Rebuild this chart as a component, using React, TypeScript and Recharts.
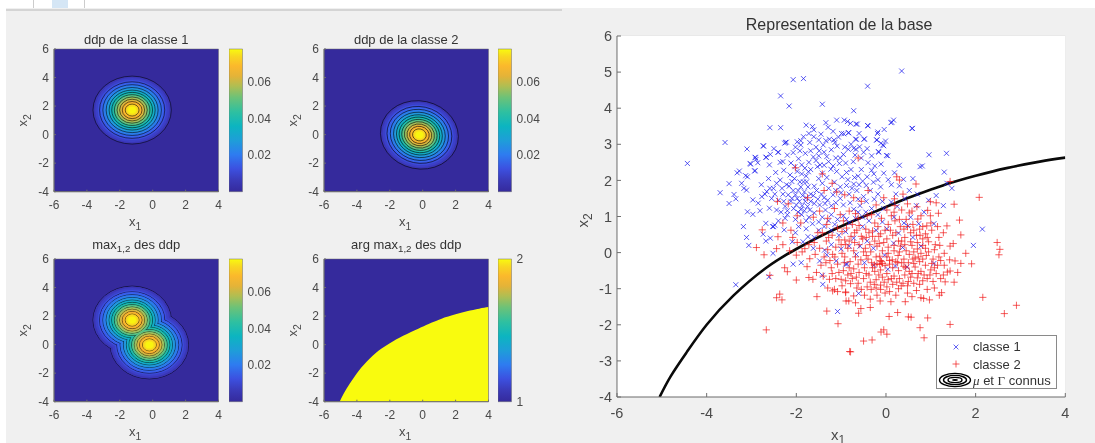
import React from "react";
import {
  Area,
  ComposedChart,
  CartesianGrid,
  Legend,
  Line,
  ReferenceArea,
  Scatter,
  ScatterChart,
  XAxis,
  YAxis,
} from "recharts";

const FONT = "'Liberation Sans', Arial, sans-serif";
const TEXT = "#4a4a4a";
const AXIS = "#6e6e6e";
const BASE = "#352a9c";
const YELLOW = "#f9fb0e";

const xTicks = [-6, -4, -2, 0, 2, 4];
const yTicksSmall = [-4, -2, 0, 2, 4, 6];
const yTicksMain = [-4, -3, -2, -1, 0, 1, 2, 3, 4, 5, 6];
const densityTicks = [0.02, 0.04, 0.06];
const argTicks = [1, 2];

// density bands, outer to inner
const bandRadii = [2.38, 2.25, 2.1, 1.98, 1.88, 1.78, 1.68, 1.58, 1.49, 1.4, 1.32, 1.24, 1.16, 1.08, 1.0, 0.92, 0.84, 0.76, 0.68, 0.6, 0.51, 0.42, 0.33, 0.24];
const bandColors = ["#3a35b4", "#3b3fc6", "#3c4cdc", "#3b5aea", "#3568ee", "#2e76ee", "#2884e8", "#2392e0", "#1ea0d8", "#17aacc", "#10b2c0", "#16b8b0", "#2cbca0", "#48c08e", "#6cc278", "#90c266", "#b0be52", "#ccb944", "#e4b338", "#f6b030", "#fbbc2c", "#f8cc24", "#f7e01a", "#f9f40f"];
const contourRadii = [2.38, 1.98, 1.78, 1.58, 1.4, 1.24, 1.08, 0.92, 0.76, 0.6, 0.42];

const class1Centre = { x: -1.25, y: 1.72 };
const class2Centre = { x: -0.2, y: -0.02 };

const boundaryX = [-5.05, -4.8, -4.44, -4, -3.41, -2.67, -2, -1.19, -0.27, 0.36, 0.99, 1.43, 2, 2.69, 3.43, 4];
const boundaryY = [-4, -3.42, -2.75, -2, -1.2, -0.42, 0.1, 0.62, 1.12, 1.45, 1.74, 1.93, 2.13, 2.34, 2.52, 2.63];

const class1Points = [
  [-4.43,2.47],[-3.59,3.05],[-3.1,2.87],[-3.7,1.66],[-3.5,1.91],[-3.5,1.36],[-3.39,1.61],[-3.35,1.49],[-3.32,2.21],[-3.27,2.26],
  [-3.22,1.92],[-3.17,1.78],[-3.11,1.73],[-3.13,2.13],[-3.09,2.1],[-3.02,2.45],[-2.92,2.64],[-2.9,2.58],[-2.86,2.49],[-2.93,2.26],
  [-2.73,2.95],[-2.67,2.64],[-2.59,3.46],[-2.35,3.46],[-2.35,4.34],[-2.16,4.06],[-2.07,4.79],[-1.84,4.82],[-1.42,4.11],[-2.41,2.78],
  [-2.24,3.05],[0.35,5.03],[-0.41,4.61],[-0.72,3.93],[0.17,3.67],[0.11,3.6],[0.59,3.44],[-0.4,3.51],[-0.64,3.56],[-0.79,3.58],
  [-0.93,3.67],[-0.18,3.34],[-0.04,3.41],[-0.83,3.32],[-0.94,3.29],[-0.48,3.15],[-0.66,3.14],[-0.2,3.12],[-0.01,3.09],[-0.11,3.03],
  [-0.05,2.96],[-0.59,2.93],[-0.72,2.89],[-0.16,2.78],[0.04,2.68],[0.96,2.71],[1.35,2.75],[-0.4,2.49],[-0.11,2.45],[0.3,2.42],
  [0.76,2.38],[0.81,2.4],[1.3,2.23],[-0.27,2.18],[0.19,2.21],[0.39,2.03],[0.6,2.05],[1.36,1.92],[1.47,1.78],[1.28,1.3],
  [2.15,0.65],[1.95,0.2],[1.07,-0.3],[-0.27,-0.35],[-0.87,-0.32],[0.04,-0.46],[-0.61,-1.13],[0.17,0.26],[0.37,0.14],[-0.03,-0.07],
  [0.47,-0.4],[0.49,0.74],[0.02,0.66],[0.73,0.8],[1.07,0.8],[0.28,0.54],[0.21,-0.37],[-3.35,-0.89],[-2.61,-0.67],[-2.52,-0.02],
  [-3.06,0.2],[-3.11,0.42],[-3.18,0.72],[-2.74,0.51],[-2.68,0.32],[-2.58,0.4],[-2.27,0.63],[-2.07,-0.32],[-1.89,-0.28],[-1.48,-0.23],
  [-1.42,-0.63],[-1.41,-0.88],[-1.08,-1.63],[-1.37,0.07],[-1.11,-0.23],[-0.9,-0.32],[-1.32,-0.06],[-2.53,0.72],[-2.48,0.76],[-2.09,0.3],
  [-1.78,0.66],[-1.74,0.44],[-1.85,0.3],[-2.91,2.63],[-3.03,2.47],[-2.74,2.96],[-2.4,2.78],[-2.68,2.64],[-2.6,2.43],[-2.92,2.27],
  [-2.36,2.5],[-2.3,2.52],[-2.22,3.06],[-2.26,3.03],[-2.2,2.7],[-2.07,2.77],[-1.98,3.07],[-1.84,3.21],[-1.9,2.98],[-1.61,3.21],
  [-1.56,2.92],[-1.49,2.82],[-1.34,3.1],[-1.26,3.14],[-1.14,3.05],[-1.09,2.95],[-0.99,3.3],[-0.84,3.32],[-0.68,3.14],[-0.49,3.14],
  [-0.21,3.12],[-0.07,2.98],[-0.17,2.8],[0.01,2.69],[-0.84,2.86],[-0.67,2.86],[-0.69,2.7],[-0.73,2.52],[-1.04,2.47],[-1.23,2.31],
  [-1.47,2.43],[-1.53,2.38],[-1.81,2.34],[-1.88,2.43],[-1.73,2.24],[-2.03,2.38],[-2.14,2.15],[-2.36,2.01],[-2.1,1.97],[-2.51,1.78],
  [-2.59,1.78],[-2.66,1.69],[-2.77,1.55],[-2.97,1.46],[-2.6,1.23],[-2.44,1.18],[-2.85,1.37],[-2.81,1.16],[-3.09,1.13],[-2.97,1.06],
  [-2.68,0.81],[-2.51,0.72],[-1.78,3.53],[-1.64,3.49],[-1.61,3.4],[-1.34,3.6],[-1.29,3.47],[-1.1,3.67],[-0.86,3.63],[-0.67,3.56],
  [-0.41,3.52],[0.13,3.61],[0.58,3.44],[-0.19,3.3],[-1.72,3.3],[-1.45,3.28],[-1.18,3.36],[-1.06,3.2],[-0.6,3.3],[-1.9,3.1],
  [-1.7,3.05],[-1.4,2.98],[-1.22,2.85],[-0.95,2.72],[-0.55,2.62],[-0.32,2.68],[-0.25,2.4],[-0.55,2.3],[-0.62,2.12],[-0.78,2.3],
  [-0.9,2.48],[-1.12,2.62],[-1.32,2.66],[-1.62,2.65],[-1.8,2.75],[-1.95,2.6],[-2.12,2.48],[-1.98,2.25],[-1.88,2.18],[-1.78,2.12],
  [-1.68,2.3],[-1.42,2.2],[-1.32,2.08],[-1.1,2.25],[-0.98,2.1],[-0.85,2.02],[-0.72,1.9],[-0.52,1.98],[-0.42,2.1],[-0.28,1.95],
  [-0.12,1.82],[0.05,2.02],[0.12,1.88],[-0.05,2.2],[-0.18,1.62],[-0.35,1.72],[-0.5,1.55],[-0.65,1.72],[-0.82,1.62],[-1.02,1.82],
  [-1.15,1.95],[-1.28,1.78],[-1.42,1.92],[-1.55,1.72],[-1.62,1.58],[-1.92,1.96],[-1.84,1.96],[-1.77,1.96],[-2.07,1.72],[-2.02,1.6],
  [-1.98,1.5],[-1.93,1.42],[-2.0,1.32],[-1.87,1.3],[-1.8,1.42],[-1.75,1.28],[-1.7,1.18],[-1.82,1.16],[-1.9,1.2],[-2.06,1.22],
  [-2.12,1.42],[-2.18,1.6],[-2.25,1.28],[-2.3,1.62],[-2.4,1.45],[-2.7,1.62],[-2.48,1.62],[-2.55,1.5],[-2.2,1.05],[-2.02,0.92],
  [-1.88,1.05],[-1.72,0.98],[-1.6,1.1],[-1.48,1.32],[-1.38,1.52],[-1.3,1.45],[-1.18,1.6],[-1.12,1.38],[-1.02,1.5],[-0.95,1.32],
  [-0.8,1.38],[-0.72,1.2],[-0.58,1.3],[-0.45,1.12],[-0.32,1.22],[-0.18,1.05],[-0.05,1.22],[0.12,1.4],[0.25,1.28],[0.42,1.5],
  [0.52,1.72],[0.3,1.85],[0.22,1.62],[0.7,1.62],[-1.35,1.18],[-1.22,1.05],[-1.08,0.92],[-0.95,1.02],[-0.82,0.82],[-0.68,0.95],
  [-0.52,0.72],[-0.38,0.88],[-0.22,0.62],[-0.08,0.85],[-1.5,0.85],[-1.38,0.72],[-1.22,0.62],[-1.05,0.48],[-0.9,0.58],[-0.72,0.4],
  [-0.58,0.18],[-0.42,0.32],[-0.28,0.12],[-1.6,0.42],[-1.5,0.62],[-1.22,0.22],[-1.0,0.1],[-0.82,0.18],[-2.25,0.95],[-2.4,0.88],
  [-1.95,0.72],[-2.02,0.55],[-1.62,0.12],[-0.66,-0.05],[-0.48,-0.28],[0.6,0.42],[0.78,0.18],[1.12,1.58],[0.85,1.12],[0.55,0.98],
  [0.4,0.82],[0.18,0.98],[0.95,1.45],[0.68,1.3],
  [-2.28,2.28],[-2.22,1.88],[-2.46,2.22],[-2.62,2.05],[-2.78,1.88],[-2.44,1.92],[-2.32,1.78],[-2.16,1.84],[-2.04,2.05],[-1.9,1.82],
  [-1.82,1.68],[-1.74,1.82],[-1.68,1.62],[-1.6,1.84],[-1.5,2.05],[-1.56,2.55],[-1.38,2.42],[-1.28,2.52],[-1.18,2.4],[-1.02,2.62],
  [-0.88,2.22],[-0.7,2.08],[-0.6,1.88],[-0.44,1.86],[-0.32,2.28],[-0.18,2.02],[-0.08,1.42],[-0.26,1.48],[-0.44,1.42],[-0.62,1.48],
  [-0.76,1.78],[-0.88,1.86],[-1.0,1.66],[-1.12,1.72],[-1.22,1.3],[-1.36,1.36],[-1.44,1.62],[-1.52,1.48],[-1.6,1.36],[-1.68,1.42],
  [-1.78,1.52],[-1.86,1.58],[-1.96,1.72],[-2.1,1.5],[-2.2,1.16],[-2.34,1.12],[-2.28,1.42],[-1.96,1.12],[-1.78,0.88],[-1.64,0.8],
  [-1.42,0.98],[-1.28,0.88],[-1.14,0.78],[-0.88,0.92],[-0.62,1.12],[-0.52,0.98],[-1.72,2.5],[-1.5,2.68],[-1.38,2.78],[-1.68,2.82],
  [-1.92,2.82],[-2.02,2.92],[-2.5,2.88],[-2.58,2.72],[-0.5,2.78],[-0.42,2.88],[-0.78,3.0],[-0.92,2.92],[-1.5,3.12],[-1.16,3.12],
];

const class2Points = [
  [-0.79,-2.75],[-0.5,-2.45],[-0.31,-2.42],[-0.05,-2.14],[0.02,-2.26],[-0.11,-2.2],[0.76,-2.08],[0.85,-2.36],[1.43,-1.99],[0.93,-1.81],
  [0.5,-1.78],[0.07,-1.77],[0.26,-1.66],[0.56,-1.79],[2.64,-1.69],[2.91,-1.46],[2.16,-1.24],[1.91,-0.31],[2.48,0.28],[2.54,0.09],
  [2.52,-0.06],[1.67,0.49],[1.5,0.25],[1.43,0.18],[1.54,-0.23],[1.67,-0.3],[1.43,-0.51],[1.37,-0.54],[1.32,-0.81],[1.24,-1.11],
  [1.19,-1.18],[0.78,-1.25],[0.84,-1.27],[0.97,-1.31],[0.43,-1.36],[0.11,-1.36],[-0.13,-1.34],[-0.35,-1.29],[-0.35,-1.52],[-0.56,-1.55],
  [-0.61,-1.68],[-0.68,-1.39],[-0.83,-1.34],[-0.9,-1.09],[-0.79,-0.86],[-0.33,-1.02],[2.08,1.53],[1.52,1.34],[1.12,1.38],[0.99,1.41],
  [1.64,0.9],[1.17,1.09],[0.67,1.9],[1.43,1.97],[0.24,2.1],[0.3,2.01],[0.19,1.49],[0.69,1.27],[0.93,1.17],[0.99,1.02],
  [1.36,0.74],[0.71,0.93],[0.91,0.74],[-2.76,0.63],[-2.89,0.14],[-2.72,-0.06],[-2.41,0.44],[-2.44,0.11],[-2.26,-0.42],[-2.2,-0.53],
  [-2.59,-0.63],[-2,-0.76],[-1.76,-0.39],[-1.72,-0.69],[-1.63,-0.74],[-1.54,-1.22],[-2.44,-1.25],[-2.37,-1.15],[-2.32,-1.31],[-2.67,-2.14],
  [-1.32,-1.62],[-1.07,-1.97],[-0.81,-2.74],[-1.19,-1.06],[-1.26,-0.74],[-1,-0.74],[-0.89,-1.34],[-0.9,-1.11],[-1.45,-0.35],[-1.22,-0.42],
  [-2.15,0.05],[-2,-0.07],[-1.87,0.02],[-1.81,0.11],[-1.7,-0.17],[-1.52,0.55],[-1.33,0.32],[-1.19,-0.05],[-1.05,-0.55],[-0.93,-0.28],
  [-2.42,1.42],[-2.18,1.35],[-2.02,2.35],[-1.42,2.18],[-1.38,1.72],[-1.2,1.92],[-1.1,1.68],[-0.62,2.62],[-0.92,1.6],[-1.62,0.98],
  [-1.48,1.15],[-1.75,1.52],[-1.9,0.82],[-2.12,0.62],[-2.3,0.82],[-1.98,1.02],[-1.3,0.95],[-1.15,1.22],[-0.82,1.15],[-0.95,0.88],
  [-0.72,1.52],[-0.55,1.42],[-0.4,1.72],[-0.22,1.32],[-0.05,1.52],[0.02,1.18],[0.18,1.12],[0.35,1.18],[0.48,1.35],[0.58,1.15],
  [-0.62,0.95],[-0.42,1.02],[-0.25,0.82],[-0.1,0.95],[0.05,0.78],[0.2,0.88],[0.32,0.72],[0.45,0.92],[0.6,0.78],[0.75,0.65],
  [0.88,0.52],[1.02,0.62],[1.18,0.42],[1.28,0.55],[1.1,0.22],[0.95,0.3],[0.82,0.38],[0.68,0.48],[0.55,0.55],[0.42,0.42],
  [0.28,0.32],[0.15,0.48],[0.02,0.38],[-0.12,0.52],[-0.25,0.32],[-0.38,0.55],[-0.52,0.38],[-0.65,0.62],[-0.78,0.45],[-0.92,0.35],
  [-1.08,0.68],[-1.2,0.48],[-1.32,0.78],[-1.42,0.55],[-1.6,0.28],[-1.48,0.12],[-1.3,0.08],[-1.12,0.15],[-0.98,-0.02],[-0.85,0.12],
  [-0.72,0.05],[-0.6,0.22],[-0.46,0.12],[-0.34,0.02],[-0.2,0.18],[-0.08,0.05],[0.05,0.15],[0.18,0.05],[0.32,0.18],[0.45,0.05],
  [0.58,0.2],[0.7,0.1],[0.82,0.2],[0.95,0.02],[1.08,0.08],[1.2,0.2],[1.3,-0.02],[1.18,-0.12],[1.05,-0.18],[0.9,-0.08],
  [0.78,-0.02],[0.65,-0.15],[0.52,-0.05],[0.4,-0.18],[0.27,-0.08],[0.14,-0.2],[0.02,-0.12],[-0.1,-0.25],[-0.22,-0.12],[-0.32,-0.28],
  [-0.26,-0.34],[-0.2,-0.31],[-0.14,-0.33],[-0.08,-0.3],[-0.02,-0.36],[-0.44,-0.08],[-0.56,-0.2],[-0.68,-0.12],[-0.8,-0.25],[-0.92,-0.12],
  [-1.08,-0.32],[-1.25,-0.22],[-1.38,-0.12],[-1.58,-0.05],[-1.55,-0.55],[-1.4,-0.65],[-1.12,-0.72],[-1.3,-0.98],[-1.15,-1.02],[-1.08,-1.08],
  [-0.98,-0.92],[-0.85,-0.62],[-0.72,-0.45],[-0.6,-0.55],[-0.48,-0.42],[-0.38,-0.62],[-0.25,-0.52],[-0.12,-0.48],[0.02,-0.58],[0.15,-0.42],
  [0.28,-0.5],[0.4,-0.38],[0.52,-0.52],[0.65,-0.4],[0.78,-0.52],[0.88,-0.35],[1.0,-0.48],[1.12,-0.58],[0.85,-0.62],[0.7,-0.7],
  [0.55,-0.68],[0.42,-0.62],[0.3,-0.72],[0.18,-0.65],[0.05,-0.75],[-0.08,-0.68],[-0.22,-0.75],[-0.35,-0.82],[-0.5,-0.72],[-0.62,-0.85],
  [-0.75,-0.72],[-0.9,-0.78],[-0.55,-1.02],[-0.42,-0.95],[-0.22,-0.98],[-0.12,-0.9],[0.02,-0.95],[0.15,-0.88],[0.28,-1.0],[0.38,-0.85],
  [0.48,-0.92],[0.62,-0.85],[0.75,-0.88],[0.82,-0.78],[0.92,-0.72],[1.05,-0.8],[1.22,-0.72],[0.68,-1.05],[0.48,-1.12],[0.22,-1.18],
  [-0.02,-1.12],[-0.2,-1.18],[-0.72,-1.2],[-0.65,-0.98],[-1.2,-0.58],[-0.6,0.75],[-0.45,0.65],[-0.3,0.6],[-0.18,0.72],[0.1,0.62],
  [0.22,0.55],[0.4,0.65],[0.82,0.72],[1.0,0.82],[1.15,0.72],[0.55,0.3],[0.7,0.28],[0.35,-0.28],[0.5,-0.28],[0.62,-0.3],
  [0.75,-0.25],[-0.3,0.45],[-0.15,0.25],[-0.55,0.45],[-1.05,0.35],[-1.28,0.42],[-0.98,0.58],[-0.75,0.78],[-0.88,0.68],[-2.08,0.42],
  [-1.98,0.28],[-1.72,0.22],[-2.3,0.22],[1.78,-0.02],[1.6,-0.55],[1.42,-0.2],[1.3,-0.35],[1.15,-0.35],[1.52,-0.82],[1.28,-0.62],
  [0.38,1.62],[0.52,1.1],[0.78,1.02],[0.2,1.3],[-0.32,1.05],[-0.68,1.08],[-1.02,1.05],[-0.12,-0.22],[0.08,-0.32],[0.22,-0.25],
  [-0.9,0.22],[-0.7,0.28],[-0.5,0.02],[-0.4,-0.18],[-0.62,-0.32],[-0.82,-0.42],[-0.95,-0.5],[-0.3,-0.42],[-0.16,-0.62],[0.08,-0.22],
  [0.3,0.02],[0.42,0.22],[0.62,0.02],[0.72,-0.12],[0.88,0.12],[1.02,-0.3],[0.92,0.42],[0.76,0.48],[0.62,0.62],[0.48,0.72],
  [0.3,0.92],[0.12,1.02],[-0.02,0.62],[-0.16,0.45],[-0.36,0.22],[-0.44,0.42],[-0.7,0.55],[-0.82,0.32],[-1.0,0.22],[-1.14,-0.12],
  [-1.34,-0.28],[-0.78,-0.58],[-0.66,-0.68],[-0.44,-0.58],[-0.04,-0.82],[0.12,-0.72],[0.34,-0.92],[0.58,-0.58],[0.72,-0.58],[0.98,-0.62],
  [1.08,-0.42],[1.22,-0.22],[0.5,-0.8],[0.24,-0.82],[-0.26,-0.88],[-0.48,-1.18],[-0.12,-1.02],[0.08,-1.08],[0.58,-1.22],[0.92,-1.02],
  [1.08,-0.98],[0.35,0.32],[0.18,0.2],[-0.05,0.28],[0.05,-0.02],[-0.14,-0.1],[0.6,-0.18],[0.44,-0.42],[0.26,-0.28],[0.82,-0.18],
];

const boundary = boundaryX.map((x, i) => ({ x, y: boundaryY[i] }));
const class1Data = class1Points.map(([x, y]) => ({ x, y }));
const class2Data = class2Points.map(([x, y]) => ({ x, y }));
const legendLabels = ["classe 1", "classe 2"];

// one filled ring per band, black outline only on the contour levels
const bandData = (centres) => {
  const rows = [];
  bandRadii.forEach((r, i) => {
    const line = contourRadii.includes(r);
    centres.forEach((c) => rows.push({ ...c, r, color: bandColors[i], line }));
    if (line && centres.length > 1) {
      centres.forEach((c) => rows.push({ ...c, r: r - 0.02, color: bandColors[i], line: false }));
    }
  });
  return rows;
};

const Gradient = () => (
  <defs>
    <linearGradient id="parula" x1="0" y1="1" x2="0" y2="0">
      <stop offset="0" stopColor="#352a9c" />
      <stop offset="0.08" stopColor="#3a3ab8" />
      <stop offset="0.16" stopColor="#3c50e0" />
      <stop offset="0.26" stopColor="#2e7cf0" />
      <stop offset="0.36" stopColor="#1e9ed8" />
      <stop offset="0.46" stopColor="#0cb5c0" />
      <stop offset="0.56" stopColor="#2fc0a0" />
      <stop offset="0.66" stopColor="#6cc278" />
      <stop offset="0.74" stopColor="#b0be52" />
      <stop offset="0.81" stopColor="#e4b338" />
      <stop offset="0.88" stopColor="#fbb82c" />
      <stop offset="0.95" stopColor="#f8d820" />
      <stop offset="1" stopColor={YELLOW} />
    </linearGradient>
  </defs>
);

const Sub = ({ x, y, name, sub, size, rotate }) => (
  <text
    x={x}
    y={y}
    fontSize={size}
    fill={TEXT}
    textAnchor="middle"
    fontFamily={FONT}
    transform={rotate ? `rotate(-90 ${x} ${y})` : undefined}
  >
    {name}
    <tspan dy={size * 0.3} fontSize={size * 0.8}>
      {sub}
    </tspan>
  </text>
);

const Title = ({ x, y, before, sub, after, size }) => (
  <text x={x} y={y} fontSize={size} fill="#333" textAnchor="middle" fontFamily={FONT}>
    {before}
    {sub ? (
      <tspan dy={3} fontSize={size * 0.75}>
        {sub}
      </tspan>
    ) : null}
    <tspan dy={sub ? -3 : 0}>{after}</tspan>
  </text>
);

const SMALL_W = 164.5;
const SMALL_H = 142.7;
const PAD_L = 40;
const PAD_T = 24;
const PAD_B = 56;
const PAD_R = 6;
const X_LABEL = PAD_T + SMALL_H + 34;

const FrameAxes = ({ ticksY }) => (
  <>
    <XAxis type="number" dataKey="x" domain={[-6, 4]} ticks={xTicks} interval={0} height={PAD_B} allowDataOverflow stroke={AXIS} tickSize={-2} tickMargin={11} tick={{ fontSize: 12, fill: TEXT }} />
    <YAxis type="number" dataKey="y" domain={[-4, 6]} ticks={ticksY} interval={0} width={PAD_L} allowDataOverflow stroke={AXIS} tickSize={-2} tickMargin={7} tick={{ fontSize: 12, fill: TEXT }} />
  </>
);

const ringShape = (angle) => (props) => {
  const { cx, cy, payload } = props;
  const rx = (payload.r * SMALL_W) / 10;
  const ry = (payload.r * SMALL_H) / 10;
  return (
    <ellipse
      cx={cx}
      cy={cy}
      rx={rx}
      ry={ry}
      fill={payload.color}
      stroke={payload.line ? "#000" : "none"}
      strokeOpacity={0.85}
      strokeWidth={payload.line ? 0.65 : 0}
      transform={`rotate(${angle} ${cx} ${cy})`}
    />
  );
};

const Density = ({ left, top, centres, angle, children }) => (
  <div style={{ position: "absolute", left: left - PAD_L, top: top - PAD_T }}>
    <ScatterChart
      width={PAD_L + SMALL_W + PAD_R}
      height={PAD_T + SMALL_H + PAD_B}
      margin={{ top: PAD_T, right: PAD_R, bottom: 0, left: 0 }}
    >
      {FrameAxes({ ticksY: yTicksSmall })}
      <ReferenceArea x1={-6} x2={4} y1={-4} y2={6} fill={BASE} fillOpacity={1} stroke={AXIS} strokeWidth={0.5} />
      <Scatter data={bandData(centres)} shape={ringShape(angle)} isAnimationActive={false} />
      {children}
      <Sub x={PAD_L + SMALL_W / 2 - 1} y={X_LABEL} name="x" sub="1" size={13} />
      <Sub x={13} y={PAD_T + SMALL_H / 2} name="x" sub="2" size={13} rotate />
    </ScatterChart>
  </div>
);

const ArgMax = ({ left, top, children }) => (
  <div style={{ position: "absolute", left: left - PAD_L, top: top - PAD_T }}>
    <ComposedChart
      width={PAD_L + SMALL_W + PAD_R}
      height={PAD_T + SMALL_H + PAD_B}
      margin={{ top: PAD_T, right: PAD_R, bottom: 0, left: 0 }}
      data={boundary}
    >
      {FrameAxes({ ticksY: yTicksSmall })}
      <ReferenceArea x1={-6} x2={4} y1={-4} y2={6} fill={BASE} fillOpacity={1} stroke={AXIS} strokeWidth={0.5} />
      <Area dataKey="y" type="natural" baseValue={-4} fill={YELLOW} fillOpacity={1} stroke="none" isAnimationActive={false} dot={false} activeDot={false} />
      {children}
      <Sub x={PAD_L + SMALL_W / 2 - 1} y={X_LABEL} name="x" sub="1" size={13} />
      <Sub x={13} y={PAD_T + SMALL_H / 2} name="x" sub="2" size={13} rotate />
    </ComposedChart>
  </div>
);

const ColorBar = ({ left, top, domain, ticks }) => (
  <div style={{ position: "absolute", left, top: top - 6 }}>
    <ComposedChart width={50} height={SMALL_H + 12} margin={{ top: 6, right: 0, bottom: 6, left: 0 }} data={[{ x: 0, y: domain[0] }]}>
      <Gradient />
      <XAxis type="number" dataKey="x" domain={[0, 1]} hide />
      <YAxis
        type="number"
        dataKey="y"
        orientation="right"
        domain={domain}
        ticks={ticks}
        interval={0}
        width={36.5}
        axisLine={false}
        tickLine={false}
        tickMargin={-1}
        tick={{ fontSize: 12, fill: TEXT }}
      />
      <ReferenceArea x1={0} x2={1} y1={domain[0]} y2={domain[1]} fill="url(#parula)" fillOpacity={1} stroke={AXIS} strokeWidth={0.5} />
    </ComposedChart>
  </div>
);

const crossMark = (props) => {
  const { cx, cy } = props;
  const s = 2.5;
  return <path d={`M${cx - s} ${cy - s}L${cx + s} ${cy + s}M${cx - s} ${cy + s}L${cx + s} ${cy - s}`} stroke="#2020ee" strokeOpacity={0.75} strokeWidth={1} fill="none" />;
};

const plusMark = (props) => {
  const { cx, cy } = props;
  const s = 3.6;
  return <path d={`M${cx - s} ${cy}H${cx + s}M${cx} ${cy - s}V${cy + s}`} stroke="#f01818" strokeOpacity={0.7} strokeWidth={1} fill="none" />;
};

const LegendBox = () => (
  <div style={{ width: 121, height: 54, boxSizing: "border-box", background: "#fff", border: "1px solid #8a8a8a", fontFamily: FONT, fontSize: 13, color: "#333", position: "relative" }}>
    {legendLabels.map((label, i) => (
      <div key={label} style={{ position: "absolute", left: 36, top: 3 + i * 17.5, whiteSpace: "nowrap" }}>
        {label}
      </div>
    ))}
    <svg width={36} height={36} style={{ position: "absolute", left: 0, top: 0 }}>
      <path d="M16.6 8.6l4.8 4.8M16.6 13.4l4.8-4.8" stroke="#2020ee" strokeOpacity={0.7} />
      <path d="M15.5 28h7M19 24.5v7" stroke="#f01818" strokeOpacity={0.7} />
    </svg>
    <svg width={36} height={18} style={{ position: "absolute", left: 1, top: 36 }}>
      <ellipse cx={17} cy={8} rx={15.5} ry={6.6} fill="none" stroke="#000" strokeWidth={1.4} />
      <ellipse cx={17} cy={8} rx={11.5} ry={4.6} fill="none" stroke="#000" strokeWidth={1.4} />
      <ellipse cx={17} cy={8} rx={7} ry={2.6} fill="none" stroke="#000" strokeWidth={1.4} />
      <ellipse cx={17} cy={8} rx={3} ry={1} fill="#000" />
    </svg>
    <div style={{ position: "absolute", left: 36, top: 37, whiteSpace: "nowrap", fontSize: 13 }}>
      <span style={{ fontFamily: "'Liberation Serif', serif", fontStyle: "italic" }}>μ</span> et <span style={{ fontFamily: "'Liberation Serif', serif" }}>Γ</span> connus
    </div>
  </div>
);

const MAIN_L = 616.7;
const MAIN_T = 36;
const MAIN_W = 448.3;
const MAIN_H = 361;
const MAIN_PAD = 50;

const MainChart = () => (
  <div style={{ position: "absolute", left: MAIN_L - MAIN_PAD, top: MAIN_T - 26 }}>
    <ComposedChart width={MAIN_W + MAIN_PAD + 10} height={MAIN_H + 26 + 56} margin={{ top: 26, right: 10, bottom: 0, left: 0 }}>
      <ReferenceArea x1={-6} x2={4} y1={-4} y2={6} fill="#fff" fillOpacity={1} stroke="none" />
      <CartesianGrid stroke="#e4e4e4" horizontalValues={yTicksMain} verticalValues={xTicks} />
      <XAxis type="number" dataKey="x" domain={[-6, 4]} ticks={xTicks} interval={0} height={56} allowDataOverflow stroke={AXIS} tickSize={-4} tickMargin={15} tick={{ fontSize: 14.5, fill: TEXT }} />
      <YAxis type="number" dataKey="y" domain={[-4, 6]} ticks={yTicksMain} interval={0} width={MAIN_PAD} allowDataOverflow stroke={AXIS} tickSize={-4} tickMargin={9} tick={{ fontSize: 14.5, fill: TEXT }} />
      <XAxis xAxisId="top" orientation="top" type="number" domain={[-6, 4]} ticks={xTicks} interval={0} height={0} stroke={AXIS} tickSize={-4} tick={false} />
      <YAxis yAxisId="right" orientation="right" type="number" domain={[-4, 6]} ticks={yTicksMain} interval={0} width={0} stroke={AXIS} tickSize={-4} tick={false} />
      <Scatter data={class1Data} shape={crossMark} isAnimationActive={false} />
      <Scatter data={class2Data} shape={plusMark} isAnimationActive={false} />
      <Line data={boundary} dataKey="y" type="natural" stroke="#0a0a0a" strokeWidth={2.6} dot={false} activeDot={false} isAnimationActive={false} />
      <Legend layout="horizontal" verticalAlign="middle" align="center" content={<LegendBox />} wrapperStyle={{ left: 936 - MAIN_L + MAIN_PAD, top: 335 - MAIN_T + 26, width: 121, height: 54 }} />
      <Title x={MAIN_PAD + MAIN_W / 2 - 2} y={20} before="Representation de la base" size={16} />
      <Sub x={MAIN_PAD + 221} y={MAIN_H + 26 + 43} name="x" sub="1" size={15} />
      <Sub x={MAIN_PAD - 29} y={26 + MAIN_H / 2 + 4} name="x" sub="2" size={15} rotate />
    </ComposedChart>
  </div>
);

export default function App() {
  return (
    <div style={{ position: "absolute", left: 0, top: 0, width: 1095, height: 443, overflow: "hidden", background: "#fff", fontFamily: FONT, filter: "blur(0.35px)" }}>
      <style>{"body{margin:0}"}</style>
      <div style={{ position: "absolute", left: 6, top: 8, width: 1089, height: 435, background: "#f0f0f0" }} />
      <div style={{ position: "absolute", left: 6, top: 9, width: 556, height: 1.5, background: "#d4d4d4" }} />
      <div style={{ position: "absolute", left: 33, top: 0, width: 1, height: 8, background: "#ccc" }} />
      <div style={{ position: "absolute", left: 52, top: 0, width: 16, height: 8, background: "#d5e6f5" }} />
      <div style={{ position: "absolute", left: 84, top: 0, width: 1, height: 8, background: "#ccc" }} />

      <Density left={54} top={48.5} centres={[class1Centre]} angle={0}>
        <Title x={PAD_L + SMALL_W / 2} y={19.5} before="ddp de la classe 1" size={13} />
      </Density>
      <ColorBar left={229} top={48.5} domain={[0, 0.078]} ticks={densityTicks} />

      <Density left={324.3} top={48.5} centres={[class2Centre]} angle={12}>
        <Title x={PAD_L + SMALL_W / 2} y={19.5} before="ddp de la classe 2" size={13} />
      </Density>
      <ColorBar left={498} top={48.5} domain={[0, 0.078]} ticks={densityTicks} />

      <Density left={54} top={259} centres={[class1Centre, class2Centre]} angle={0}>
        <Title x={PAD_L + SMALL_W / 2} y={14.5} before="max" sub="1,2" after=" des ddp" size={13} />
      </Density>
      <ColorBar left={229} top={259} domain={[0, 0.078]} ticks={densityTicks} />

      <ArgMax left={324.3} top={259}>
        <Title x={PAD_L + SMALL_W / 2} y={14.5} before="arg max" sub="1,2" after=" des ddp" size={13} />
      </ArgMax>
      <ColorBar left={498} top={259} domain={[1, 2]} ticks={argTicks} />

      <MainChart />
    </div>
  );
}
